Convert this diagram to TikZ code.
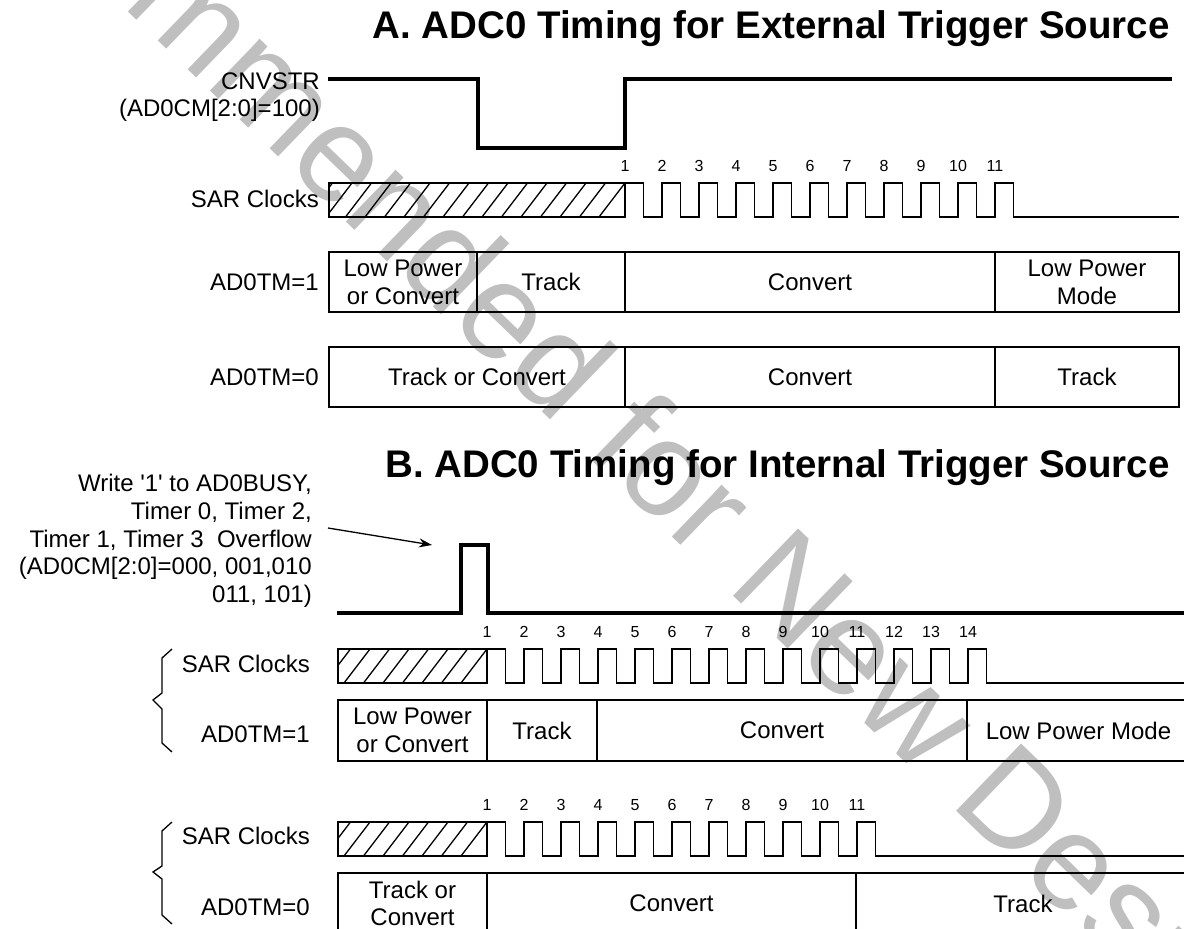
\documentclass[tikz,border=0pt]{standalone}
\usepackage{fontspec}
\setmainfont{Liberation Sans}
\usetikzlibrary{positioning,arrows.meta}

\newcommand{\txtsize}{\fontsize{24}{27.75}\selectfont}
% hatched part of a clock line: left x, right x, top y
\newcommand{\hatchbox}[3]{%
  \begin{scope}
    \clip (#1,#3) rectangle (#2,#3+34);
    \foreach \i in {0,...,16} \draw[clk] ({#2-26-19.5*\i},#3+34) -- ++(26,-34);
  \end{scope}
  \draw[clk] (#1,#3) rectangle (#2,#3+34);
}
% clock pulses with their numbers: start x, top y, count, end x
\newcommand{\clockline}[4]{%
  \draw[clk] (#1,#2) \foreach \k in {2,...,#3}{ -- ++(18.5,0) -- ++(0,34) -- ++(18.5,0) -- ++(0,-34)}
    -- ++(18.5,0) -- ++(0,34) -- (#4,#2+34);
  \foreach \k in {1,...,#3} \node[num] at ({#1+37*(\k-1)},#2-12) {\k};
}

\tikzset{
  sig/.style={line width=3.5pt, line join=miter},
  clk/.style={line width=1.3pt},
  seg/.style={draw, line width=1.3pt, inner sep=0pt, outer sep=0pt, minimum height=60pt,
    align=center, anchor=north west, font=\txtsize},
  lbl/.style={inner sep=0pt, align=right, font=\txtsize},
  num/.style={inner sep=0pt, anchor=base, font=\fontsize{16}{18}\selectfont},
  ttl/.style={inner sep=0pt, anchor=base east, font=\fontsize{38.5}{41}\selectfont\bfseries},
  wmark/.style={inner sep=0pt, text=black!25, font=\fontsize{136}{136}\selectfont}
}

\begin{document}
\begin{tikzpicture}[x=1pt, y=-1pt]
\useasboundingbox (0,0) rectangle (1184,929);
\clip (0,0) rectangle (1184,929);

% watermark
\node[wmark, rotate=-44] (wm) at (622,440) {Recommended for New Designs};

% A. external trigger
\node[ttl] (titleA) at (1170,38) {A. ADC0 Timing for External Trigger Source};

\node[lbl, anchor=east] (cnvlbl) at (320,97) {CNVSTR\\(AD0CM[2:0]=100)};
\coordinate (cnvstart) at (328,79);
\draw[sig] (cnvstart) -- (478,79) -- (478,148) -- (625,148) -- (625,79) -- (1172,79);

\node[lbl, anchor=base east] (sarA) at (319,207) {SAR Clocks};
\hatchbox{329}{625}{183}
\clockline{625}{183}{11}{1179}

\node[lbl, anchor=east] (tmoneA) at (319,282) {AD0TM=1};
\node[seg, minimum width=148pt] (aoneLP) at (329,252) {Low Power\\or Convert};
\node[seg, minimum width=148pt, right=0pt of aoneLP] (aoneTR) {Track};
\node[seg, minimum width=370pt, right=0pt of aoneTR] (aoneCV) {Convert};
\node[seg, minimum width=184pt, right=0pt of aoneCV] (aoneLM) {Low Power\\Mode};

\node[lbl, anchor=east] (tmzeroA) at (319,377) {AD0TM=0};
\node[seg, minimum width=296pt] (azeroTC) at (329,347) {Track or Convert};
\node[seg, minimum width=370pt, right=0pt of azeroTC] (azeroCV) {Convert};
\node[seg, minimum width=184pt, right=0pt of azeroCV] (azeroTR) {Track};

% B. internal trigger
\node[ttl] (titleB) at (1170,477) {B. ADC0 Timing for Internal Trigger Source};

\node[lbl, anchor=east] (wrlbl) at (312,541) {Write \textquotesingle 1\textquotesingle\ to AD0BUSY,\\Timer 0, Timer 2,\\Timer 1, Timer 3~ Overflow\\(AD0CM[2:0]=000, 001,010\\011, 101)};
\coordinate (arrfrom) at (328,528);
\coordinate (arrto) at (432,545);
\draw[clk, -{Stealth[length=13pt, width=9pt]}] (arrfrom) -- (arrto);
\draw[sig] (337,613) -- (461,613) -- (461,545) -- (488,545) -- (488,613) -- (1190,613);

% AD0TM=1
\draw[clk] (172,649) -- (162,658) -- (162,693) -- (153,700) -- (162,709) -- (162,743) -- (172,752);
\node[lbl, anchor=base east] (sarBone) at (310,672) {SAR Clocks};
\node[lbl, anchor=base east] (tmoneB) at (310,742) {AD0TM=1};
\hatchbox{338}{487}{649}
\clockline{487}{649}{14}{1190}
\node[seg, minimum width=149pt, minimum height=61pt] (boneLP) at (338,700) {Low Power\\or Convert};
\node[seg, minimum width=110pt, minimum height=61pt, right=0pt of boneLP] (boneTR) {Track};
\node[seg, minimum width=370pt, minimum height=61pt, right=0pt of boneTR] (boneCV) {Convert};
\node[seg, minimum width=223pt, minimum height=61pt, right=0pt of boneCV] (boneLM) {Low Power Mode};

% AD0TM=0
\draw[clk] (172,822) -- (162,831) -- (162,866) -- (153,872) -- (162,879) -- (162,915) -- (172,924);
\node[lbl, anchor=base east] (sarBzero) at (310,844) {SAR Clocks};
\node[lbl, anchor=base east] (tmzeroB) at (310,915) {AD0TM=0};
\hatchbox{338}{487}{822}
\clockline{487}{822}{11}{1190}
\node[seg, minimum width=149pt, minimum height=61pt] (bzeroTC) at (338,873) {Track or\\Convert};
\node[seg, minimum width=369pt, minimum height=61pt, right=0pt of bzeroTC] (bzeroCV) {Convert};
\node[seg, minimum width=334pt, minimum height=61pt, right=0pt of bzeroCV] (bzeroTR) {Track};
\end{tikzpicture}
\end{document}
